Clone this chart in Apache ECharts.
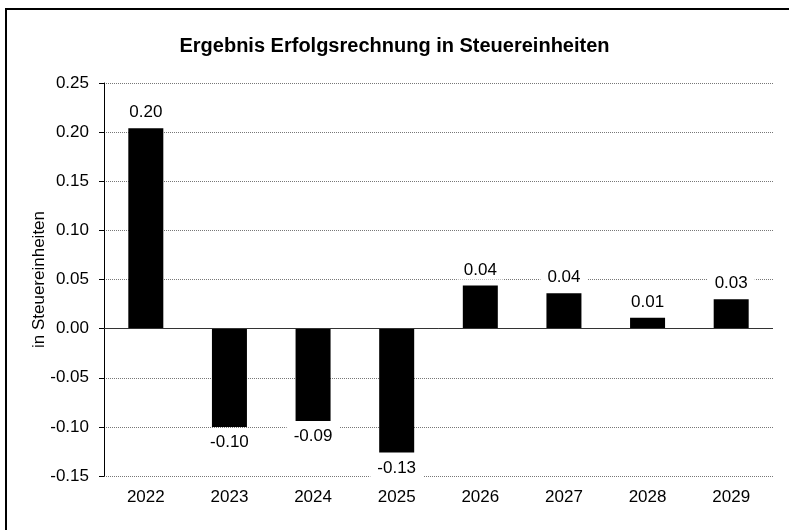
<!DOCTYPE html>
<html>
<head>
<meta charset="utf-8">
<script src="https://cdn.jsdelivr.net/npm/echarts@6/dist/echarts.min.js"></script>
<style>
  html, body { margin: 0; padding: 0; background: #fff; }
  #chart { width: 789px; height: 530px; }
</style>
</head>
<body>
<div id="chart"></div>
<script>
  // Daten
  const years = ['2022', '2023', '2024', '2025', '2026', '2027', '2028', '2029']
  const values = [0.204, -0.100, -0.094, -0.126, 0.044, 0.036, 0.011, 0.030]

  const font = 'Liberation Sans, Arial, sans-serif'
  const chart = echarts.init(document.getElementById('chart'))

  // Beschriftung oben bei positiven, unten bei negativen Werten
  const barData = values.map(v => ({
    value: v,
    label: { position: v >= 0 ? 'top' : 'bottom' }
  }))

  const option = {
    animation: false,
    backgroundColor: '#fff',
    title: {
      text: 'Ergebnis Erfolgsrechnung in Steuereinheiten',
      left: 'center',
      top: 31,
      textStyle: { fontFamily: font, fontSize: 20, fontWeight: 'bold', color: '#000' }
    },
    graphic: [{
      type: 'rect',
      shape: { x: 6, y: 9, width: 820, height: 600 },
      style: { fill: 'none', stroke: '#000', lineWidth: 2 },
      silent: true
    }],
    grid: { left: 104, right: 16, top: 83, bottom: 54 },
    xAxis: {
      type: 'category',
      data: years,
      axisLine: { show: false },
      axisTick: { show: false },
      axisLabel: { fontFamily: font, fontSize: 17, color: '#000', margin: 13 }
    },
    yAxis: {
      type: 'value',
      min: -0.15,
      max: 0.25,
      interval: 0.05,
      name: 'in Steuereinheiten',
      nameLocation: 'middle',
      nameGap: 56,
      nameMoveOverlap: false,
      nameTextStyle: { fontFamily: font, fontSize: 17, color: '#000' },
      axisLine: { show: true, lineStyle: { color: '#000', width: 1 } },
      axisTick: { show: true, length: 5, lineStyle: { color: '#000' } },
      axisLabel: {
        fontFamily: font, fontSize: 17, color: '#000', margin: 15,
        formatter: v => v.toFixed(2)
      },
      splitLine: { show: true, lineStyle: { color: '#777', type: [1, 1], width: 1 } }
    },
    series: [{
      type: 'bar',
      data: barData,
      barWidth: 35,
      itemStyle: { color: '#000' },
      label: {
        show: true,
        distance: 6,
        fontFamily: font,
        fontSize: 17,
        color: '#000',
        backgroundColor: '#fff',
        padding: [1, 7],
        formatter: p => p.value.toFixed(2)
      },
      markLine: {
        silent: true,
        symbol: 'none',
        label: { show: false },
        lineStyle: { color: '#333', type: 'solid', width: 1 },
        data: [{ yAxis: 0 }]
      }
    }]
  }

  chart.setOption(option)
</script>
</body>
</html>
